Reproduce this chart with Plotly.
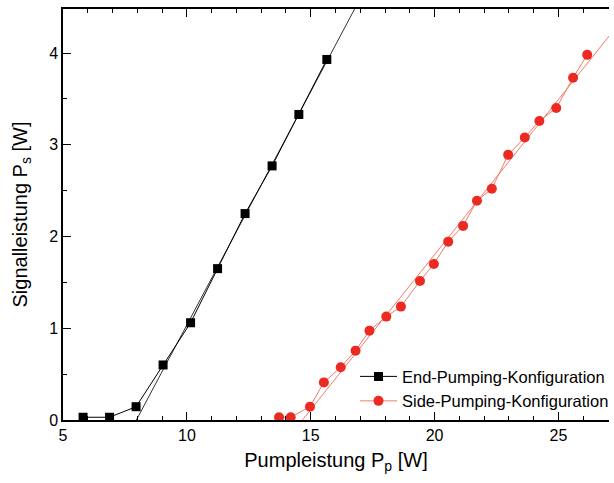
import numpy as np
import plotly.graph_objects as go

# End-pumping configuration: pump power [W] and signal power [W]
end_pump = [5.81, 6.88, 7.95, 9.04, 10.15, 11.24, 12.35, 13.44, 14.52, 15.65]
end_signal = [0.03, 0.03, 0.145, 0.60, 1.06, 1.65, 2.25, 2.77, 3.33, 3.93]

# Side-pumping configuration: pump power [W] and signal power [W]
side_pump = [13.72, 14.19, 14.97, 15.53, 16.21, 16.81, 17.37, 18.05, 18.64, 19.41,
             19.97, 20.55, 21.15, 21.71, 22.31, 22.97, 23.64, 24.23, 24.91, 25.59, 26.16]
side_signal = [0.03, 0.03, 0.145, 0.41, 0.575, 0.756, 0.974, 1.127, 1.236, 1.516,
               1.70, 1.944, 2.116, 2.39, 2.52, 2.89, 3.08, 3.26, 3.40, 3.73, 3.98]

X_RANGE = [5, 27.04]
Y_RANGE = [0, 4.48]

BLACK = "#000000"
RED_MARK = "#ec2a22"
RED_LINE = "#f47a68"


def linear_fit(px, py, ymin=0.3):
    """Straight-line fit to the points above lasing threshold."""
    px = np.asarray(px)
    py = np.asarray(py)
    sel = py > ymin
    slope, icpt = np.polyfit(px[sel], py[sel], 1)
    x0 = -icpt / slope
    xs = np.array([x0, X_RANGE[1] + 1])
    return xs, slope * xs + icpt


fig = go.Figure()

# fitted slopes
fx, fy = linear_fit(end_pump, end_signal)
fig.add_trace(go.Scatter(x=fx, y=fy, mode="lines", showlegend=False,
                         line=dict(color="#333333", width=1)))
fx, fy = linear_fit(side_pump, side_signal)
fig.add_trace(go.Scatter(x=fx, y=fy, mode="lines", showlegend=False,
                         line=dict(color=RED_LINE, width=1)))

# measured data
fig.add_trace(go.Scatter(x=end_pump, y=end_signal, mode="lines+markers",
                         name="End-Pumping-Konfiguration",
                         line=dict(color=BLACK, width=1),
                         marker=dict(symbol="square", size=9, color=BLACK)))
fig.add_trace(go.Scatter(x=side_pump, y=side_signal, mode="lines+markers",
                         name="Side-Pumping-Konfiguration",
                         line=dict(color=RED_LINE, width=1),
                         marker=dict(symbol="circle", size=10, color=RED_MARK)))

FONT = "Arial, Liberation Sans, sans-serif"

fig.update_xaxes(
    range=X_RANGE, showgrid=False, zeroline=False,
    showline=True, linecolor="black", linewidth=1.5, mirror="ticks",
    ticks="inside", ticklen=8, tickwidth=1.3, tickcolor="black",
    tick0=5, dtick=5,
    minor=dict(ticks="inside", ticklen=4, tickwidth=1.3, tickcolor="black", dtick=1),
    tickfont=dict(family=FONT, size=16, color="black"),
    title=dict(text="Pumpleistung P<sub>p</sub> [W]",
               font=dict(family=FONT, size=20, color="black"), standoff=10),
)
fig.update_yaxes(
    range=Y_RANGE, showgrid=False, zeroline=False,
    showline=True, linecolor="black", linewidth=1.5,
    ticks="inside", ticklen=8, tickwidth=1.3, tickcolor="black",
    tick0=0, dtick=1,
    minor=dict(ticks="inside", ticklen=4, tickwidth=1.3, tickcolor="black", dtick=0.5),
    tickfont=dict(family=FONT, size=16, color="black"),
    title=dict(text="Signalleistung P<sub>s</sub> [W]",
               font=dict(family=FONT, size=20, color="black"), standoff=16),
)

fig.update_layout(
    width=614, height=483,
    margin=dict(l=63, r=0, t=9, b=63),
    paper_bgcolor="white", plot_bgcolor="white",
    font=dict(family=FONT, color="black"),
    legend=dict(x=0.535, y=0.148, xanchor="left", yanchor="top",
                bgcolor="rgba(0,0,0,0)", borderwidth=0,
                font=dict(family=FONT, size=16.5, color="black"),
                tracegroupgap=0, itemwidth=37),
)

fig.write_html("out.html")
